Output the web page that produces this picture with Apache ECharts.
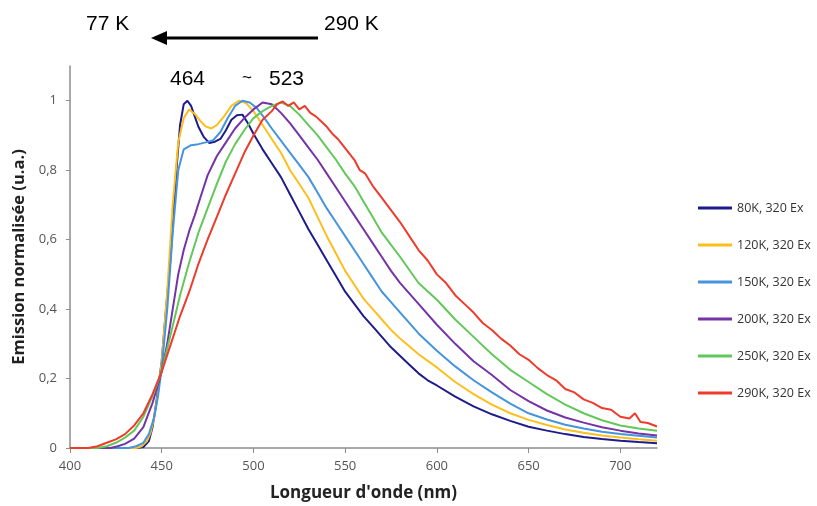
<!DOCTYPE html>
<html>
<head>
<meta charset="utf-8">
<title>Emission normalisée</title>
<script src="https://cdn.jsdelivr.net/npm/echarts@6/dist/echarts.min.js"></script>
<style>
  html, body { margin: 0; padding: 0; background: #fff; }
  #main { width: 817px; height: 506px; }
</style>
</head>
<body>
<div id="main"></div>
<script>
// spectres : [longueur d'onde (nm), emission normalisee]
var s80K = [[400,0],[420,0],[436,0],[440,0.003],[443,0.02],[445,0.06],[447,0.13],[450,0.25],[452,0.38],[455,0.56],[458,0.8],[460,0.93],[462,0.99],[464,1.0],[466,0.985],[468,0.955],[470,0.925],[473,0.895],[476,0.878],[479,0.882],[482,0.89],[485,0.915],[488,0.945],[491,0.958],[494,0.96],[497,0.935],[500,0.905],[505,0.86],[510,0.82],[515,0.78],[520,0.73],[525,0.68],[530,0.63],[535,0.585],[540,0.54],[545,0.495],[550,0.45],[555,0.415],[560,0.38],[565,0.35],[570,0.32],[575,0.29],[580,0.265],[585,0.24],[590,0.215],[595,0.195],[600,0.18],[610,0.148],[620,0.12],[630,0.097],[640,0.078],[650,0.061],[660,0.05],[670,0.04],[680,0.032],[690,0.026],[700,0.021],[710,0.017],[720,0.014]];
var s120K = [[400,0],[436,0],[439,0.005],[442,0.02],[444,0.045],[446,0.09],[448,0.16],[450,0.25],[453,0.45],[456,0.7],[459,0.88],[462,0.95],[465,0.975],[468,0.962],[471,0.942],[474,0.926],[477,0.92],[480,0.93],[484,0.955],[488,0.985],[492,1.0],[496,0.993],[500,0.97],[505,0.93],[510,0.89],[515,0.85],[520,0.8],[525,0.76],[530,0.72],[535,0.665],[540,0.61],[545,0.56],[550,0.51],[555,0.47],[560,0.43],[565,0.4],[570,0.37],[575,0.34],[580,0.315],[590,0.27],[600,0.232],[610,0.19],[620,0.155],[630,0.125],[640,0.1],[650,0.081],[660,0.066],[670,0.053],[680,0.044],[690,0.036],[700,0.03],[710,0.025],[720,0.021]];
var s150K = [[400,0],[432,0],[436,0.005],[440,0.015],[443,0.04],[446,0.09],[448,0.15],[450,0.23],[453,0.4],[456,0.62],[459,0.8],[462,0.86],[466,0.872],[470,0.875],[474,0.88],[478,0.886],[482,0.91],[486,0.95],[490,0.985],[494,1.0],[498,0.995],[502,0.978],[506,0.95],[510,0.92],[515,0.885],[520,0.85],[525,0.815],[530,0.78],[535,0.735],[540,0.69],[545,0.65],[550,0.61],[555,0.57],[560,0.53],[565,0.49],[570,0.45],[575,0.42],[580,0.39],[590,0.33],[600,0.28],[610,0.235],[620,0.195],[630,0.16],[640,0.128],[650,0.1],[660,0.082],[670,0.067],[680,0.056],[690,0.047],[700,0.04],[710,0.035],[720,0.03]];
var s200K = [[400,0],[422,0],[426,0.005],[430,0.012],[435,0.027],[440,0.06],[445,0.13],[450,0.22],[453,0.3],[456,0.4],[459,0.5],[462,0.57],[465,0.625],[468,0.67],[471,0.72],[475,0.785],[480,0.84],[485,0.88],[490,0.92],[495,0.95],[500,0.975],[505,0.995],[510,0.99],[515,0.965],[520,0.935],[525,0.9],[530,0.865],[535,0.83],[540,0.79],[545,0.75],[550,0.71],[555,0.67],[560,0.63],[565,0.59],[570,0.55],[575,0.51],[580,0.475],[590,0.415],[600,0.355],[610,0.3],[620,0.25],[630,0.21],[640,0.167],[650,0.135],[660,0.108],[670,0.088],[680,0.073],[690,0.06],[700,0.05],[710,0.042],[720,0.036]];
var s250K = [[400,0],[415,0],[420,0.005],[425,0.015],[430,0.03],[435,0.05],[440,0.09],[445,0.15],[450,0.22],[455,0.33],[460,0.44],[465,0.535],[470,0.62],[475,0.69],[480,0.76],[485,0.825],[490,0.875],[495,0.915],[500,0.95],[505,0.97],[510,0.985],[515,0.995],[520,0.985],[525,0.96],[530,0.93],[535,0.9],[540,0.865],[545,0.83],[550,0.79],[555,0.755],[560,0.71],[565,0.665],[570,0.62],[575,0.585],[580,0.55],[590,0.475],[600,0.427],[610,0.37],[620,0.32],[630,0.27],[640,0.225],[650,0.19],[660,0.155],[670,0.125],[680,0.1],[690,0.08],[700,0.065],[710,0.056],[720,0.05]];
var s290K = [[400,0],[410,0],[415,0.005],[420,0.015],[425,0.025],[430,0.04],[435,0.065],[440,0.1],[445,0.155],[450,0.22],[455,0.3],[460,0.38],[465,0.45],[470,0.53],[475,0.6],[480,0.665],[485,0.73],[490,0.79],[495,0.85],[500,0.9],[505,0.945],[510,0.97],[513,0.99],[516,0.998],[519,0.985],[522,0.995],[525,0.975],[528,0.985],[531,0.965],[534,0.955],[537,0.94],[540,0.925],[543,0.905],[546,0.89],[549,0.87],[552,0.85],[555,0.83],[558,0.8],[561,0.79],[565,0.755],[570,0.72],[575,0.685],[580,0.65],[585,0.61],[590,0.57],[595,0.54],[600,0.5],[605,0.475],[610,0.44],[615,0.415],[620,0.39],[625,0.36],[630,0.34],[635,0.315],[640,0.295],[645,0.27],[650,0.254],[655,0.23],[660,0.21],[665,0.195],[670,0.17],[675,0.16],[680,0.14],[685,0.13],[690,0.115],[695,0.11],[700,0.09],[705,0.085],[708,0.1],[711,0.075],[715,0.072],[720,0.062]];

var seriesNames = ['80K, 320 Ex', '120K, 320 Ex', '150K, 320 Ex', '200K, 320 Ex', '250K, 320 Ex', '290K, 320 Ex'];
var seriesData = [s80K, s120K, s150K, s200K, s250K, s290K];
var colors = ['#1e1b8c', '#fcbf1e', '#4494de', '#7434a6', '#63c85a', '#ee3b2b'];

var chart = echarts.init(document.getElementById('main'));

var series = seriesNames.map(function (name, i) {
  return {
    name: name,
    type: 'line',
    data: seriesData[i],
    showSymbol: false,
    symbol: 'none',
    lineStyle: { width: 2, color: colors[i] },
    itemStyle: { color: colors[i] }
  };
});

var option = {
  animation: false,
  grid: { left: 70, right: 160, top: 66, bottom: 58, outerBoundsMode: 'none' },
  legend: {
    orient: 'vertical',
    left: 698,
    top: 201,
    padding: 0,
    icon: 'rect',
    itemWidth: 34,
    itemHeight: 3,
    itemGap: 23,
    textStyle: { fontFamily: 'Open Sans', fontSize: 12.5, color: '#333', lineHeight: 14 },
    data: seriesNames
  },
  xAxis: {
    type: 'value',
    min: 400,
    max: 720,
    interval: 50,
    name: "Longueur d'onde (nm)",
    nameLocation: 'middle',
    nameGap: 37,
    nameTextStyle: { fontFamily: 'Open Sans', fontWeight: 'bold', fontSize: 17, color: '#222' },
    axisLine: { lineStyle: { color: '#8c8c8c', width: 1.5 } },
    axisTick: { lineStyle: { color: '#8c8c8c' }, length: 5 },
    axisLabel: { showMaxLabel: false, fontFamily: 'Open Sans', fontSize: 13, color: '#555', margin: 12 },
    splitLine: { show: false }
  },
  yAxis: {
    type: 'value',
    min: 0,
    max: 1.1,
    interval: 0.2,
    name: 'Emission normalisée (u.a.)',
    nameLocation: 'middle',
    nameGap: 42,
    nameRotate: 90,
    nameTextStyle: { fontFamily: 'Open Sans', fontWeight: 'bold', fontSize: 16.5, color: '#222' },
    axisLine: { show: true, lineStyle: { color: '#8c8c8c', width: 1.5 } },
    axisTick: { show: true, lineStyle: { color: '#8c8c8c' }, length: 4 },
    axisLabel: {
      showMaxLabel: false,
      fontFamily: 'Open Sans', fontSize: 13, color: '#555', margin: 13,
      formatter: function (v) {
        return (Math.round(v * 10) / 10).toString().replace('.', ',');
      }
    },
    splitLine: { show: false }
  },
  graphic: [
    { type: 'text', left: 86, top: 14, style: { text: '77 K', font: '21px "Liberation Sans"', fill: '#000' } },
    { type: 'text', left: 324, top: 14, style: { text: '290 K', font: '21px "Liberation Sans"', fill: '#000' } },
    { type: 'line', shape: { x1: 165, y1: 38, x2: 318, y2: 38 }, style: { stroke: '#000', lineWidth: 3 } },
    { type: 'polygon', shape: { points: [[151, 38], [167, 31], [167, 45]] }, style: { fill: '#000' } },
    { type: 'text', left: 170, top: 69, style: { text: '464', font: '21px "Liberation Sans"', fill: '#000' } },
    { type: 'text', left: 242, top: 70, style: { text: '~', font: '17px "Liberation Sans"', fill: '#000' } },
    { type: 'text', left: 269, top: 69, style: { text: '523', font: '21px "Liberation Sans"', fill: '#000' } }
  ],
  series: series
};

chart.setOption(option);
</script>
</body>
</html>
